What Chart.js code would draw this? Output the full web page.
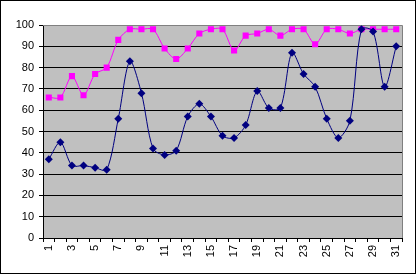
<!DOCTYPE html>
<html>
<head>
<meta charset="utf-8">
<script src="https://cdn.jsdelivr.net/npm/chart.js@4/dist/chart.umd.min.js"></script>
<style>
  body { margin: 0; background: #fff; }
  canvas { display: block; }
</style>
</head>
<body>
<canvas id="grafica" width="418" height="276"></canvas>
<script>
const days = [];
for (let i = 1; i <= 31; i++) days.push(String(i));

const serieNavy = [37, 45, 34, 34, 33, 32, 56, 83, 68, 42, 39, 41, 57, 63, 57, 48,
  47, 53, 69, 61, 61, 87, 77, 71, 56, 47, 55, 98, 97, 71, 90];
const serieMagenta = [66, 66, 76, 67, 77, 80, 93, 98, 98, 98, 89, 84, 89, 96, 98, 98,
  88, 95, 96, 98, 95, 98, 98, 91, 98, 98, 96, 98, 98, 98, 98];
const yTicks = [0, 10, 20, 30, 40, 50, 60, 70, 80, 90, 100];

const fontDef = { family: 'Liberation Sans, Arial, sans-serif', size: 11 };

// fondo gris del area y marco exterior
const marco = {
  id: 'marco',
  beforeDraw(chart) {
    const { ctx, chartArea: a } = chart;
    ctx.save();
    ctx.fillStyle = '#fff';
    ctx.fillRect(0, 0, chart.width, chart.height);
    ctx.fillStyle = '#c0c0c0';
    ctx.fillRect(a.left, a.top, a.right - a.left, a.bottom - a.top);
    ctx.restore();
  },
  beforeDatasetsDraw(chart) {
    const { ctx, chartArea: a } = chart;
    ctx.save();
    ctx.strokeStyle = '#808080';
    ctx.lineWidth = 1;
    ctx.beginPath();
    ctx.moveTo(a.left, Math.round(a.top) + 0.5);
    ctx.lineTo(Math.round(a.right) + 0.5, Math.round(a.top) + 0.5);
    ctx.lineTo(Math.round(a.right) + 0.5, a.bottom);
    ctx.stroke();
    ctx.restore();
  },
  afterDraw(chart) {
    const ctx = chart.ctx;
    ctx.save();
    ctx.strokeStyle = '#000';
    ctx.lineWidth = 1;
    ctx.strokeRect(0.5, 0.5, 415, 273);
    ctx.restore();
  }
};

new Chart(document.getElementById('grafica'), {
  type: 'line',
  data: {
    labels: days,
    datasets: [{
      data: serieNavy,
      borderColor: '#000080',
      backgroundColor: '#000080',
      borderWidth: 1,
      pointStyle: 'rectRot',
      pointRadius: 4,
      pointBorderWidth: 0,
      tension: 0.3
    }, {
      data: serieMagenta,
      borderColor: '#ff00ff',
      backgroundColor: '#ff00ff',
      borderWidth: 1,
      pointStyle: 'rect',
      pointRadius: 4.3,
      pointBorderWidth: 0,
      tension: 0.3
    }]
  },
  options: {
    responsive: false,
    animation: false,
    layout: { padding: { top: 25, right: 16, left: 0, bottom: 0 } },
    plugins: { legend: { display: false }, tooltip: { enabled: false } },
    scales: {
      x: {
        offset: true,
        grid: { drawOnChartArea: false, drawTicks: true, tickLength: 4, color: '#000', offset: true },
        border: { display: true, color: '#000', width: 1 },
        ticks: {
          autoSkip: false,
          minRotation: 90,
          maxRotation: 90,
          padding: 3,
          color: '#000',
          font: fontDef,
          callback: (v, i) => (i % 2 === 0 ? days[i] : '')
        },
        afterFit(s) { s.height = 38; }
      },
      y: {
        min: 0,
        max: 100,
        afterBuildTicks(s) { s.ticks = yTicks.map(v => ({ value: v })); },
        grid: { color: '#000', tickLength: 4, drawTicks: true },
        border: { display: true, color: '#000', width: 1 },
        ticks: { padding: 5, color: '#000', font: fontDef },
        afterFit(s) { s.width = 43; }
      }
    }
  },
  plugins: [marco]
});
</script>
</body>
</html>
